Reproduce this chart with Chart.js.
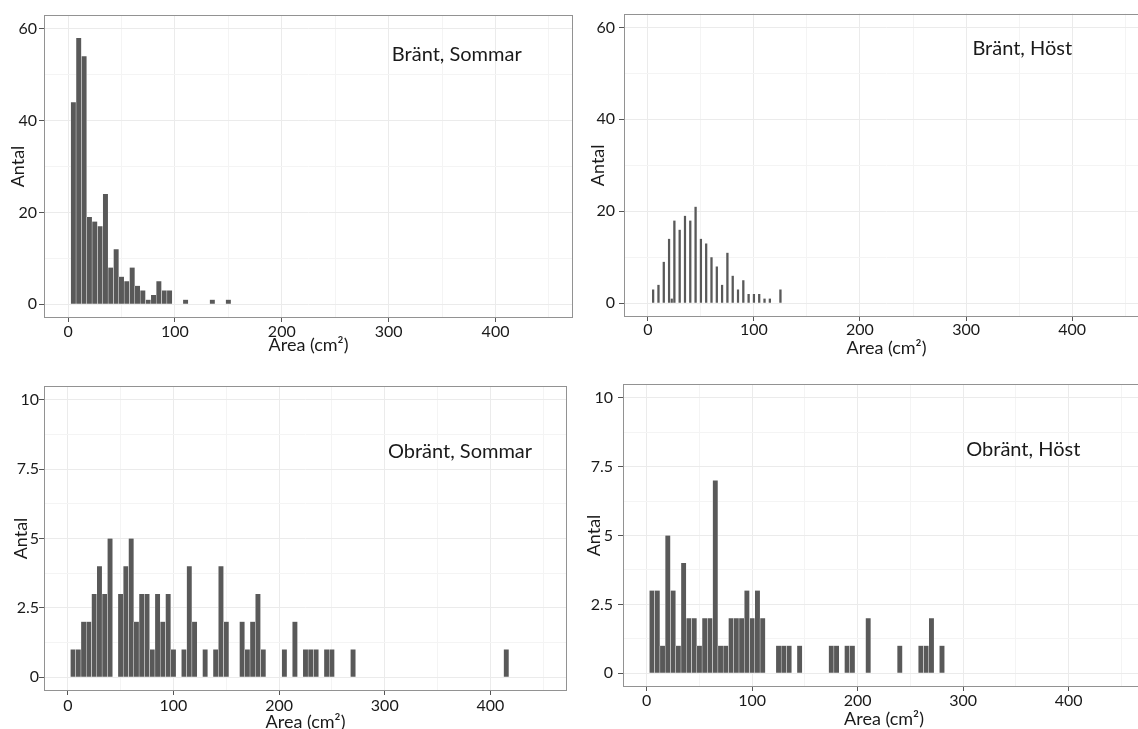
<!DOCTYPE html>
<html><head><meta charset="utf-8">
<script src="https://cdn.jsdelivr.net/npm/chart.js@4.4.1/dist/chart.umd.min.js"></script>
<style>
html,body{margin:0;padding:0;background:#fff;width:1138px;height:729px;overflow:hidden;position:relative}
canvas{position:absolute}
</style></head><body>
<canvas id="c1"></canvas><canvas id="c2"></canvas><canvas id="c3"></canvas><canvas id="c4"></canvas>
<script>
// ---------- DATA ----------
// Bränt, Sommar (bin centres, counts)
const brantSommarArea  = [5,10,15,20,25,30,35,40,45,50,55,60,65,70,75,80,85,90,95,110,135,150];
const brantSommarCount = [44,58,54,19,18,17,24,8,12,6,5,8,4,3,1,2,5,3,3,1,1,1];
// Bränt, Höst
const brantHostArea  = [5,10,15,20,22.5,25,30,35,40,45,50,55,60,65,70,75,80,85,90,95,100,105,110,115,125];
const brantHostCount = [3,4,9,14,1,18,16,19,18,21,14,13,10,8,4,11,6,3,5,2,2,2,1,1,3];
// Obränt, Sommar
const obrantSommarArea  = [5,10,15,20,25,30,35,40,50,55,60,65,70,75,80,85,90,95,100,110,115,120,130,140,145,150,165,170,175,180,185,205,215,225,230,235,245,250,270,415];
const obrantSommarCount = [1,1,2,2,3,4,3,5,3,4,5,2,3,3,1,3,2,3,1,1,4,2,1,1,4,2,2,1,2,3,1,1,2,1,1,1,1,1,1,1];
// Obränt, Höst
const obrantHostArea  = [5,10,15,20,25,30,35,40,45,50,55,60,65,70,75,80,85,90,95,100,105,110,125,130,135,145,175,180,190,195,210,240,260,265,270,280];
const obrantHostCount = [3,3,1,5,3,1,4,2,2,1,2,2,7,1,1,2,2,2,3,2,3,2,1,1,1,1,1,1,1,1,2,1,1,1,2,1];

// Tick values / labels
const xMajorTicks = [0,100,200,300,400];
const xTickLabels = ['0','100','200','300','400'];
const xMinorTicks = [50,150,250,350,450];
const yTopMajor = [0,20,40,60];
const yTopLabels = ['0','20','40','60'];
const yTopMinor = [10,30,50];
const yBotMajor = [0,2.5,5,7.5,10];
const yBotLabels = ['0','2.5','5','7.5','10'];
const yBotMinor = [1.25,3.75,6.25,8.75];

const panelTitles = ['Bränt, Sommar','Bränt, Höst','Obränt, Sommar','Obränt, Höst'];
const xTitle = 'Area (cm\u00B2)';
const yTitle = 'Antal';

// ---------- LAYOUT / STYLE ----------
const FONT = 'Lato, "Open Sans", sans-serif';
const TXT = '#1a1a1a';
const panels = [
  {id:'c1', left:0,   top:0,   w:580, h:362, padTop:15, padRight:7,  yW:44, xH:44, yLabPad:2, yTitlePad:7.7, xTitlePad:6.5, xLabPad:0,
   area:brantSommarArea, count:brantSommarCount, yMin:-3, yMax:63, yMajor:yTopMajor, yLabels:yTopLabels, yMinor:yTopMinor, annX:303, annY:53},
  {id:'c2', left:580, top:0,   w:580, h:362, padTop:13, padRight:11, yW:44, xH:45, yLabPad:4, yTitlePad:7.2, xTitlePad:3.5, xLabPad:-1,
   area:brantHostArea, count:brantHostCount, yMin:-3, yMax:63, yMajor:yTopMajor, yLabels:yTopLabels, yMinor:yTopMinor, annX:306, annY:54},
  {id:'c3', left:0,   top:366, w:580, h:380, padTop:20, padRight:13, yW:44, xH:55, yLabPad:0, yTitlePad:10.2, xTitlePad:13.5, xLabPad:1,
   area:obrantSommarArea, count:obrantSommarCount, yMin:-0.5, yMax:10.5, yMajor:yBotMajor, yLabels:yBotLabels, yMinor:yBotMinor, annX:303, annY:7.9},
  {id:'c4', left:580, top:366, w:580, h:380, padTop:18, padRight:15, yW:43, xH:59, yLabPad:5, yTitlePad:3.5, xTitlePad:16.5, xLabPad:0,
   area:obrantHostArea, count:obrantHostCount, yMin:-0.5, yMax:10.5, yMajor:yBotMajor, yLabels:yBotLabels, yMinor:yBotMinor, annX:303, annY:7.88}
];

const frameAndTitle = {
  id:'frameAndTitle',
  afterDatasetsDraw(chart, args, opts){
    const {ctx, chartArea:a, scales} = chart;
    ctx.save();
    ctx.strokeStyle = '#929292';
    ctx.lineWidth = 1;
    ctx.strokeRect(Math.round(a.left)+0.5, Math.round(a.top)+0.5, Math.round(a.right-a.left)-1, Math.round(a.bottom-a.top)-1);
    ctx.fillStyle = TXT;
    ctx.font = '20px ' + FONT;
    ctx.textAlign = 'left';
    ctx.textBaseline = 'alphabetic';
    ctx.fillText(opts.text, scales.x.getPixelForValue(opts.x), scales.y.getPixelForValue(opts.y));
    ctx.restore();
  }
};

panels.forEach((p, i) => {
  const cv = document.getElementById(p.id);
  cv.width = p.w; cv.height = p.h;
  cv.style.left = p.left + 'px'; cv.style.top = p.top + 'px';
  cv.style.width = p.w + 'px'; cv.style.height = p.h + 'px';
  const xAll = [...xMajorTicks, ...xMinorTicks].sort((a,b)=>a-b);
  const yAll = [...p.yMajor, ...p.yMinor].sort((a,b)=>a-b);
  new Chart(cv, {
    type:'bar',
    data:{datasets:[{
      data: p.area.map((a,k)=>({x:a, y:p.count[k]})),
      backgroundColor:'#595959',
      borderColor:'rgba(255,255,255,0.75)',
      borderWidth:{left:0.5,right:0.5,top:0,bottom:0},
      borderSkipped:false,
      barPercentage:1, categoryPercentage:1
    }]},
    options:{
      responsive:false, animation:false, devicePixelRatio:1,
      layout:{padding:{top:p.padTop, right:p.padRight, left:0, bottom:0}},
      plugins:{legend:{display:false}, tooltip:{enabled:false},
        frameAndTitle:{text:panelTitles[i], x:p.annX, y:p.annY}},
      scales:{
        x:{type:'linear', min:-22.5, max:472.5, offset:false,
          afterBuildTicks:s=>{s.ticks = xAll.map(v=>({value:v}));},
          afterFit:s=>{s.height = p.xH;},
          grid:{offset:false, drawTicks:true, tickLength:4,
            color:c=> (c.tick && xMajorTicks.includes(c.tick.value)) ? '#ebebeb' : '#f4f4f4',
            tickColor:c=> (c.tick && xMajorTicks.includes(c.tick.value)) ? '#555' : 'rgba(0,0,0,0)'},
          border:{display:false},
          ticks:{autoSkip:false, maxRotation:0, padding:p.xLabPad, color:TXT, font:{family:FONT, size:16},
            callback:v=>{const k = xMajorTicks.indexOf(v); return k>=0 ? xTickLabels[k] : '';}},
          title:{display:true, text:xTitle, color:TXT, font:{family:FONT, size:18, lineHeight:1.2},
            padding:{top:0, bottom:p.xTitlePad}}
        },
        y:{type:'linear', min:p.yMin, max:p.yMax,
          afterBuildTicks:s=>{s.ticks = yAll.map(v=>({value:v}));},
          afterFit:s=>{s.width = p.yW;},
          grid:{drawTicks:true, tickLength:5,
            color:c=> (c.tick && p.yMajor.includes(c.tick.value)) ? '#ebebeb' : '#f4f4f4',
            tickColor:c=> (c.tick && p.yMajor.includes(c.tick.value)) ? '#555' : 'rgba(0,0,0,0)'},
          border:{display:false},
          ticks:{autoSkip:false, padding:p.yLabPad, color:TXT, font:{family:FONT, size:16},
            callback:v=>{const k = p.yMajor.indexOf(v); return k>=0 ? p.yLabels[k] : '';}},
          title:{display:true, text:yTitle, color:TXT, font:{family:FONT, size:18, lineHeight:1.2},
            padding:{top:p.yTitlePad, bottom:0}}
        }
      }
    },
    plugins:[frameAndTitle]
  });
});
</script>
</body></html>
